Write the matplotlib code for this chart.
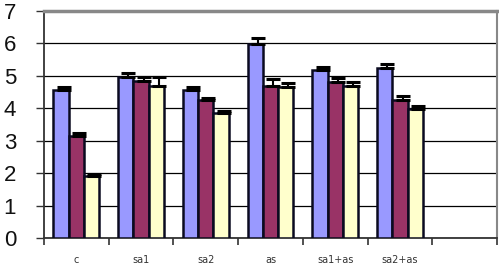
import matplotlib
matplotlib.use("Agg")
import matplotlib.pyplot as plt
import numpy as np

categories = ["c", "sa1", "sa2", "as", "sa1+as", "sa2+as", ""]
series1 = [4.57, 4.95, 4.57, 5.98, 5.17, 5.25]
series2 = [3.15, 4.85, 4.27, 4.68, 4.80, 4.27]
series3 = [1.90, 4.70, 3.85, 4.65, 4.70, 3.97]
err1 = [0.10, 0.15, 0.09, 0.20, 0.10, 0.10]
err2 = [0.10, 0.10, 0.05, 0.22, 0.12, 0.10]
err3 = [0.08, 0.25, 0.06, 0.13, 0.12, 0.10]

colors = ["#9999FF", "#993366", "#FFFFCC"]

fig = plt.figure(figsize=(4.99, 2.68), dpi=100)
ax = fig.add_axes([0.088, 0.112, 0.908, 0.847])

n = len(series1)
x = np.arange(n)
w = 0.235
for i, (vals, errs, col) in enumerate(zip([series1, series2, series3],
                                          [err1, err2, err3], colors)):
    pos = x + (i - 1) * w
    ax.bar(pos, vals, width=w, color=col, edgecolor="#0a0a20", linewidth=1.8, zorder=3)
    ax.errorbar(pos + 0.04, vals, yerr=[np.zeros(n), errs], fmt="none", ecolor="black",
                elinewidth=1.5, capsize=5, capthick=2.2, zorder=4)

ax.set_xlim(-0.5, len(categories) - 0.5)
ax.set_ylim(0, 7)
ax.set_yticks(range(0, 8))
ax.set_yticklabels([str(v) for v in range(0, 8)], fontsize=16, family="Liberation Sans",
                   color="#111111")
ax.yaxis.grid(True, color="black", linewidth=0.9, zorder=0)
ax.set_axisbelow(True)

ax.set_xticks(np.arange(len(categories)))
ax.set_xticklabels(categories, fontsize=7, color="#333333")
ax.tick_params(axis="x", which="major", length=0, pad=12)
ax.set_xticks(np.arange(len(categories) + 1) - 0.5, minor=True)
ax.tick_params(axis="x", which="minor", length=5, width=1.2, direction="out", color="#333333")
ax.tick_params(axis="y", length=6, width=1, color="#333333", pad=14)

for s in ["left", "bottom"]:
    ax.spines[s].set_color("#333333")
    ax.spines[s].set_linewidth(1.3)
ax.spines["top"].set_color("#888888")
ax.spines["top"].set_linewidth(2.5)
ax.spines["right"].set_color("#888888")
ax.spines["right"].set_linewidth(1.5)

fig.savefig("out.png", dpi=100)
